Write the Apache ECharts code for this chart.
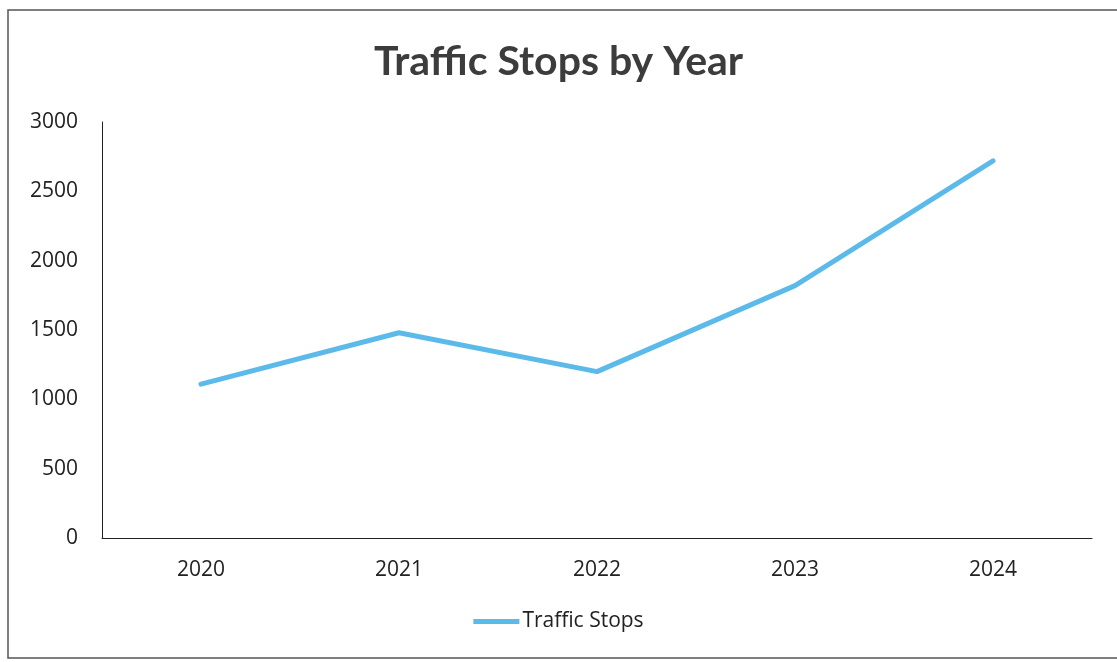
<!DOCTYPE html>
<html>
<head>
<meta charset="utf-8">
<script src="https://cdn.jsdelivr.net/npm/echarts@6/dist/echarts.min.js"></script>
<style>html,body{margin:0;padding:0;background:#fff;}#c{width:1117px;height:662px;}</style>
</head>
<body>
<div id="c"></div>
<script>
const years = ['2020', '2021', '2022', '2023', '2024'];
const trafficStops = [1110, 1480, 1200, 1820, 2720];
const yTicks = { min: 0, max: 3000, interval: 500 };
const seriesName = 'Traffic Stops';
const titleText = 'Traffic Stops by Year';

const chart = echarts.init(document.getElementById('c'));
chart.setOption({
  backgroundColor: '#ffffff',
  animation: false,
  title: {
    text: titleText,
    left: 'center',
    top: 36,
    textStyle: { fontFamily: 'Lato', fontWeight: 'bold', fontSize: 41, color: '#3c3c3c' }
  },
  legend: {
    data: [seriesName],
    bottom: 25,
    left: 'center',
    itemWidth: 46,
    itemHeight: 5,
    itemGap: 4,
    icon: 'rect',
    textStyle: { fontFamily: 'Open Sans', fontSize: 21, color: '#222', padding: [0, 0, 0, -2] }
  },
  grid: { left: 102, right: 25, top: 122, bottom: 124, containLabel: false },
  xAxis: {
    type: 'category',
    data: years,
    boundaryGap: true,
    axisLine: { show: true, lineStyle: { color: '#222', width: 1 } },
    axisTick: { show: false },
    axisLabel: { fontFamily: 'Open Sans', fontSize: 21, color: '#222', margin: 22 },
    splitLine: { show: false }
  },
  yAxis: {
    type: 'value',
    min: yTicks.min,
    max: yTicks.max,
    interval: yTicks.interval,
    axisLine: { show: true, lineStyle: { color: '#222', width: 1 } },
    axisTick: { show: false },
    axisLabel: { fontFamily: 'Open Sans', fontSize: 21, color: '#222', margin: 24, formatter: function (v) { return String(v); } },
    splitLine: { show: false }
  },
  series: [{
    name: seriesName,
    type: 'line',
    data: trafficStops,
    showSymbol: false,
    symbol: 'none',
    lineStyle: { color: '#5CBAEA', width: 5, cap: 'round', join: 'round' },
    itemStyle: { color: '#5CBAEA' }
  }],
  graphic: [{
    type: 'rect',
    shape: { x: 8, y: 10, width: 1140, height: 648 },
    style: { fill: 'none', stroke: '#555', lineWidth: 1.5 },
    silent: true
  }]
});
</script>
</body>
</html>
